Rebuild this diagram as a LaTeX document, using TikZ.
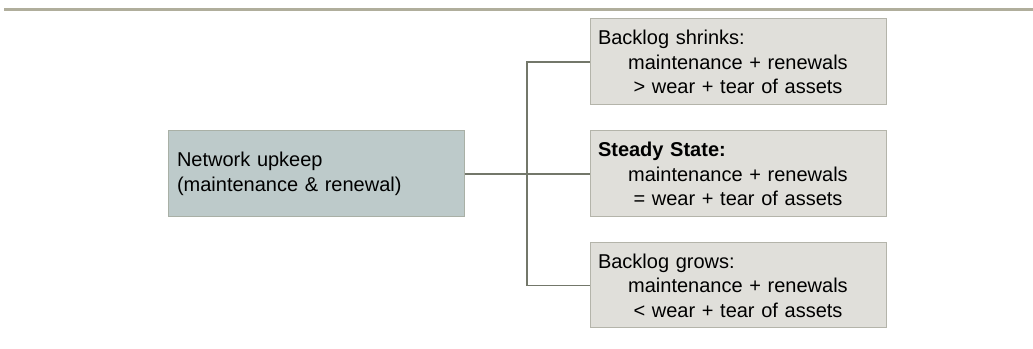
\documentclass[tikz,border=0pt]{standalone}
\usepackage{fontspec}
\setmainfont{Liberation Sans}
\definecolor{rulegray}{HTML}{B0AE9C}
\definecolor{upfill}{HTML}{BDCACA}
\definecolor{updraw}{HTML}{A9B0A6}
\definecolor{outfill}{HTML}{E0DFDA}
\definecolor{outdraw}{HTML}{B4B4AA}
\definecolor{conngray}{HTML}{73776A}
\tikzset{
  basebox/.style={rectangle, line width=0.75pt, minimum height=64.5pt,
    inner ysep=0pt, font=\fontsize{15pt}{18.4pt}\selectfont},
  upbox/.style={basebox, fill=upfill, draw=updraw, text width=208.5pt,
    inner xsep=6.75pt, align=left},
  outbox/.style={basebox, fill=outfill, draw=outdraw, text width=210pt,
    inner xsep=6pt, align=center},
  conn/.style={draw=conngray, line width=1.1pt}
}
\newcommand{\headline}[1]{\makebox[\linewidth][l]{#1}}
\begin{document}
\begin{tikzpicture}[x=0.75pt,y=-0.75pt]
\useasboundingbox (0,0) rectangle (1033,349);
% header rule
\draw[rulegray, line width=2.25pt] (4,9.5) -- (1033,9.5);
% source box
\node[upbox] (upkeep) at (316,174) {Network upkeep\\(maintenance \& renewal)};
% outcome boxes
\node[outbox] (shrinks) at (738,62)
  {\headline{Backlog shrinks:}\\maintenance + renewals\\> wear + tear of assets};
\node[outbox] (steady) at (738,174)
  {\headline{\bfseries Steady State:}\\maintenance + renewals\\= wear + tear of assets};
\node[outbox, minimum height=63.75pt] (grows) at (738,285.5)
  {\headline{Backlog grows:}\\maintenance + renewals\\< wear + tear of assets};
% connectors
\coordinate (fork) at (527,174);
\draw[conn] (upkeep.east) -- (steady.west);
\draw[conn] (shrinks.west) -| (fork) |- (grows.west);
\end{tikzpicture}
\end{document}
